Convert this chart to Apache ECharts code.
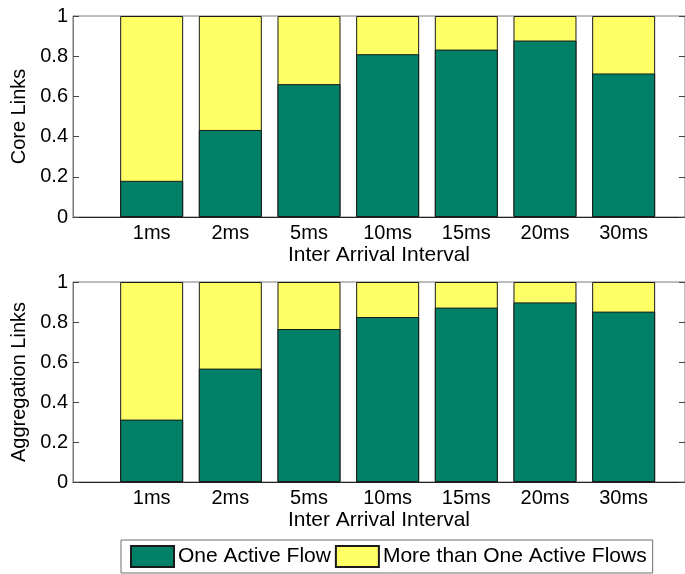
<!DOCTYPE html>
<html>
<head>
<meta charset="utf-8">
<script src="https://cdn.jsdelivr.net/npm/echarts@6/dist/echarts.min.js"></script>
<style>
html,body{margin:0;padding:0;background:#fff;}
#chart{width:685px;height:574px;}
</style>
</head>
<body>
<div id="chart"></div>
<script>
// ---- data ----
var categories = ['1ms', '2ms', '5ms', '10ms', '15ms', '20ms', '30ms'];
var yTicks = [0, 0.2, 0.4, 0.6, 0.8, 1];
var coreOne  = [0.18, 0.433, 0.661, 0.81, 0.833, 0.878, 0.714];
var coreMore = [0.82, 0.567, 0.339, 0.19, 0.167, 0.122, 0.286];
var aggOne   = [0.312, 0.567, 0.765, 0.825, 0.872, 0.898, 0.852];
var aggMore  = [0.688, 0.433, 0.235, 0.175, 0.128, 0.102, 0.148];
var seriesNames = ['One Active Flow', 'More than One Active Flows'];
var yNames = ['Core Links', 'Aggregation Links'];
var xName = 'Inter Arrival Interval';

var FONT = '"Liberation Sans", Arial, Helvetica, sans-serif';
var GREEN = '#008066', YELLOW = '#FFFF66';
var chart = echarts.init(document.getElementById('chart'), null, {renderer: 'canvas'});

var grids = [
  {left: 73, top: 16, width: 615, height: 201},
  {left: 73, top: 282, width: 615, height: 200}
];
var XMAX = 7.78;
var pitch = grids[0].width / XMAX;
var barW = Math.round(pitch * 0.8);

function pts(arr) { return arr.map(function (v, i) { return [i + 1, v]; }); }
// top of the stacked (yellow) segment = lower segment + upper segment
function tops(lower, upper) { return lower.map(function (v, i) { return [i + 1, v + upper[i]]; }); }

var xAxes = [], yAxes = [];
grids.forEach(function (g, k) {
  g.show = true; g.borderColor = '#7a7a7a'; g.borderWidth = 1; g.containLabel = false;
  xAxes.push({
    type: 'value', gridIndex: k, min: 0, max: XMAX, interval: 1,
    name: xName, nameLocation: 'middle', nameGap: 28,
    nameTextStyle: {fontFamily: FONT, fontSize: 21, color: '#000'},
    axisLine: {show: true, lineStyle: {color: '#222', width: 1}},
    axisTick: {show: false},
    splitLine: {show: false},
    axisLabel: {
      fontFamily: FONT, fontSize: 20, color: '#000', margin: 6,
      showMaxLabel: false, showMinLabel: false,
      formatter: function (v) {
        var r = Math.round(v);
        return (Math.abs(v - r) < 1e-6 && r >= 1 && r <= categories.length) ? categories[r - 1] : '';
      }
    }
  });
  yAxes.push({
    type: 'value', gridIndex: k, min: yTicks[0], max: yTicks[yTicks.length - 1], interval: 0.2,
    name: yNames[k], nameLocation: 'middle', nameGap: 40, nameRotate: 90,
    nameTextStyle: {fontFamily: FONT, fontSize: 20, color: '#000'},
    axisLine: {show: true, lineStyle: {color: '#7a7a7a', width: 1}},
    axisTick: {show: true, inside: true, length: 6, lineStyle: {color: '#444'}},
    splitLine: {show: false},
    axisLabel: {fontFamily: FONT, fontSize: 20, color: '#000', margin: 5}
  });
  yAxes.push({
    type: 'value', gridIndex: k, position: 'right', min: yTicks[0], max: yTicks[yTicks.length - 1], interval: 0.2,
    axisLine: {show: false},
    axisTick: {show: true, inside: true, length: 6, lineStyle: {color: '#444'}},
    splitLine: {show: false},
    axisLabel: {show: false}
  });
});

function bar(name, data, color, xi, yi, z) {
  return {
    name: name, type: 'bar', xAxisIndex: xi, yAxisIndex: yi, z: z,
    barWidth: barW, barGap: '-100%', data: data,
    itemStyle: {color: color, borderColor: '#1a1a1a', borderWidth: 1},
    emphasis: {disabled: true}, animation: false
  };
}

chart.setOption({
  backgroundColor: '#fff',
  animation: false,
  textStyle: {fontFamily: FONT},
  grid: grids,
  xAxis: xAxes,
  yAxis: yAxes,
  legend: {
    show: true, left: 121, top: 540,
    data: seriesNames,
    icon: 'rect', itemWidth: 43, itemHeight: 21, itemGap: 4,
    padding: [5, 6, 5, 9],
    borderColor: '#6e6e6e', borderWidth: 1,
    textStyle: {fontFamily: FONT, fontSize: 21, color: '#000', padding: [0, 0, 0, -1]},
    selectedMode: false
  },
  series: [
    bar(seriesNames[1], tops(coreOne, coreMore), YELLOW, 0, 0, 2),
    bar(seriesNames[0], pts(coreOne), GREEN, 0, 0, 3),
    bar(seriesNames[1], tops(aggOne, aggMore), YELLOW, 1, 2, 2),
    bar(seriesNames[0], pts(aggOne), GREEN, 1, 2, 3)
  ]
});
</script>
</body>
</html>
